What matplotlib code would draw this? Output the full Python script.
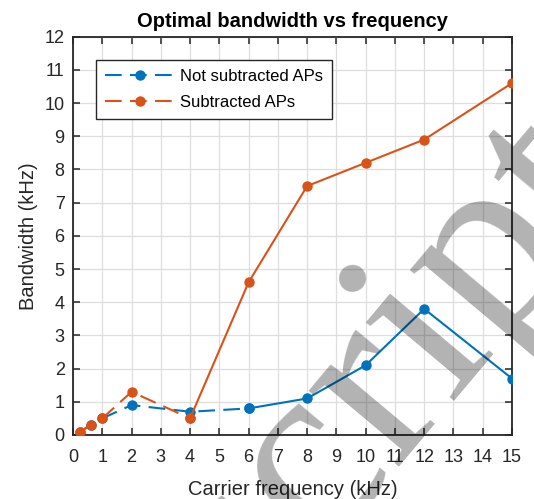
import numpy as np
import matplotlib.pyplot as plt

# data
f_low = [0.25, 0.6, 1, 2, 4, 6]
not_sub_low = [0.1, 0.3, 0.5, 0.9, 0.7, 0.8]
f_high = [6, 8, 10, 12, 15]
not_sub_high = [0.8, 1.1, 2.1, 3.8, 1.7]

fs_low = [0.25, 0.6, 1, 2, 4]
sub_low = [0.1, 0.3, 0.5, 1.3, 0.5]
fs_high = [4, 6, 8, 10, 12, 15]
sub_high = [0.5, 4.6, 7.5, 8.2, 8.9, 10.6]

xticks = list(range(0, 16))
yticks = list(range(0, 13))

blue = '#0072BD'
orange = '#D95319'
dark = '#262626'

plt.rcParams['font.family'] = ['Liberation Sans', 'DejaVu Sans']

fig = plt.figure(figsize=(5.34, 4.99), dpi=100)
ax = fig.add_axes([0.1367, 0.1283, 0.8221, 0.7982])

dash = (8, 4)
ax.plot(f_low, not_sub_low, color=blue, lw=1.5, ls='--', dashes=dash,
        marker='o', ms=6.5, label='Not subtracted APs', zorder=3)
ax.plot(f_high, not_sub_high, color=blue, lw=1.5, marker='o', ms=6.5, zorder=3)
ax.plot(fs_low, sub_low, color=orange, lw=1.5, ls='--', dashes=dash,
        marker='o', ms=6.5, label='Subtracted APs', zorder=4)
ax.plot(fs_high, sub_high, color=orange, lw=1.5, marker='o', ms=6.5, zorder=4)

ax.set_xlim(0, 15)
ax.set_ylim(0, 12)
ax.set_xticks(xticks)
ax.set_yticks(yticks)
ax.grid(True, color='#dedede', lw=0.9)
ax.set_axisbelow(True)
ax.tick_params(direction='in', length=5, width=1.1, top=True, right=True,
               labelsize=13, colors=dark, pad=6)
ax.tick_params(axis='x', pad=10)
for s in ax.spines.values():
    s.set_color(dark)
    s.set_linewidth(1.3)

ax.set_title('Optimal bandwidth vs frequency', fontsize=14.5, fontweight='bold', pad=7)
ax.set_xlabel('Carrier frequency (kHz)', fontsize=14.5, color=dark, labelpad=10)
ax.set_ylabel('Bandwidth (kHz)', fontsize=14.5, color=dark, labelpad=5)

leg = ax.legend(loc='upper left', bbox_to_anchor=(0.052, 0.9415), borderaxespad=0,
                fontsize=12, handlelength=4.2, borderpad=0.55, labelspacing=0.67,
                handletextpad=0.3, fancybox=False, framealpha=1)
leg.get_frame().set_edgecolor(dark)
leg.get_frame().set_linewidth(1.0)

# grey watermark on top
fig.text(0.734, 0.263, 'script', rotation=50, fontsize=185, family='Liberation Serif',
         color='black', alpha=0.3, ha='center', va='center', zorder=10)

fig.savefig('out.png', dpi=100)
